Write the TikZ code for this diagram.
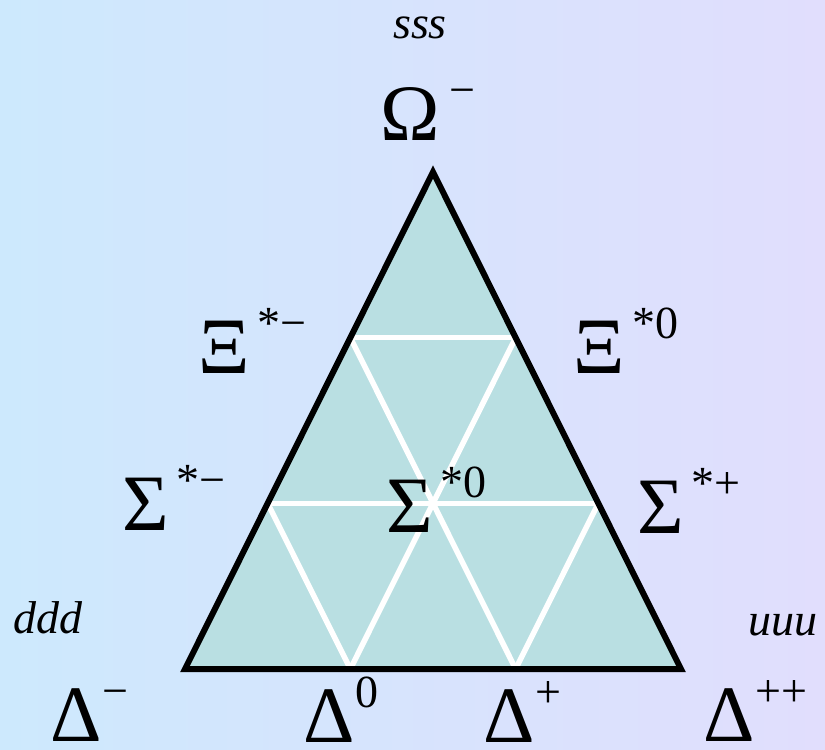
\documentclass[tikz,border=0pt]{standalone}
\usepackage{fontspec}
\setmainfont{Liberation Serif}
\usetikzlibrary{calc}

\definecolor{bgleft}{RGB}{205,233,253}
\definecolor{bgright}{RGB}{225,222,253}
\definecolor{trifill}{RGB}{185,223,226}

% Greek letter with a raised charge label
\newcommand{\hadron}[3][8pt]{{\fontsize{80}{80}\selectfont #2}\hspace{#1}\raisebox{35pt}{\fontsize{46}{46}\selectfont #3}}

\begin{document}
\begin{tikzpicture}[x=1pt, y=-1pt, line join=miter,
  edge/.style={line width=6pt},
  gridline/.style={white, line width=5.5pt},
  lab/.style={anchor=base west, inner sep=0pt},
  flav/.style={anchor=base west, inner sep=0pt, font=\fontsize{46}{46}\selectfont\itshape}]
  \useasboundingbox (0,0) rectangle (825,750);
  \shade[left color=bgleft, right color=bgright] (0,0) rectangle (825,750);
  \coordinate (A) at (185,669);
  \coordinate (B) at (681,669);
  \coordinate (C) at (433,172);
  % thirds along the sides
  \coordinate (ca1) at ($(C)!1/3!(A)$);
  \coordinate (ca2) at ($(C)!2/3!(A)$);
  \coordinate (cb1) at ($(C)!1/3!(B)$);
  \coordinate (cb2) at ($(C)!2/3!(B)$);
  \coordinate (ab1) at ($(A)!1/3!(B)$);
  \coordinate (ab2) at ($(A)!2/3!(B)$);
  \fill[trifill] (A) -- (B) -- (C) -- cycle;
  \draw[gridline] (ca1) -- (cb1);
  \draw[gridline] (ca2) -- (cb2);
  \draw[gridline] (ca1) -- (ab2);
  \draw[gridline] (cb1) -- (ab1);
  \draw[gridline] (ca2) -- (ab1);
  \draw[gridline] (cb2) -- (ab2);
  \draw[edge] (A) -- (B) -- (C) -- cycle;
  % labels
  \node[flav] (sss) at (393,38) {sss};
  \node[flav] (ddd) at (13,633) {ddd};
  \node[flav] (uuu) at (748,635) {uuu};
  \node[lab] (omega) at (380,140) {\hadron[10pt]{Ω}{−}};
  \node[lab] (ximin) at (198,373) {\hadron{Ξ}{*−}};
  \node[lab] (xizero) at (573,373) {\hadron{Ξ}{*0}};
  \node[lab] (sigmin) at (122,530) {\hadron{Σ}{*−}};
  \node[lab] (sigzero) at (386,532) {\hadron{Σ}{*0}};
  \node[lab] (sigplus) at (637,533) {\hadron{Σ}{*+}};
  \node[lab] (delmin) at (50,741) {\hadron[1pt]{Δ}{−}};
  \node[lab] (delzero) at (303,742) {\hadron[1pt]{Δ}{0}};
  \node[lab] (delplus) at (483,742) {\hadron[1pt]{Δ}{+}};
  \node[lab] (delpp) at (703,741) {\hadron[1pt]{Δ}{++}};
\end{tikzpicture}
\end{document}
